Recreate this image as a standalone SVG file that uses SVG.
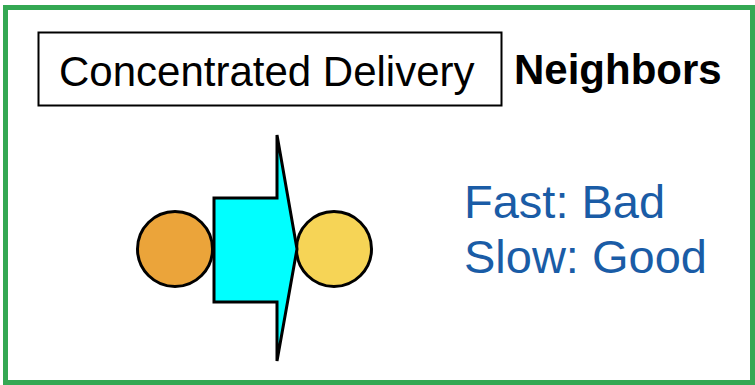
<svg xmlns="http://www.w3.org/2000/svg" width="755" height="385" viewBox="0 0 755 385">
<style>
.node{stroke:#000;stroke-width:3}
.lbl{font-family:"Liberation Sans",Arial,sans-serif;fill:#000;font-size:42px}
.blue{font-family:"Liberation Sans",Arial,sans-serif;fill:#1a5ca6;font-size:47px}
</style>
<rect x="0" y="0" width="755" height="385" fill="#fff"/>
<rect x="5.5" y="7.5" width="747" height="375" fill="none" stroke="#34a853" stroke-width="5"/>
<g id="title">
<rect x="38.5" y="32.5" width="463" height="73" fill="#fff" stroke="#000" stroke-width="2"/>
<text class="lbl" x="59" y="86">Concentrated Delivery</text>
</g>
<g id="neighbors"><text class="lbl" x="514" y="84" font-weight="bold">Neighbors</text></g>
<g id="source"><circle class="node" cx="175" cy="249" r="37.5" fill="#eba43a"/></g>
<g id="target"><circle class="node" cx="334" cy="249" r="37.5" fill="#f6d456"/></g>
<g id="connectors">
<polygon class="node" points="214,198 277,198 277,135 297,249 277,361 277,302 214,302" fill="#00ffff" stroke-linejoin="miter"/>
</g>
<g id="note">
<text class="blue" x="464" y="218">Fast: Bad</text>
<text class="blue" x="464" y="273">Slow: Good</text>
</g>
</svg>
